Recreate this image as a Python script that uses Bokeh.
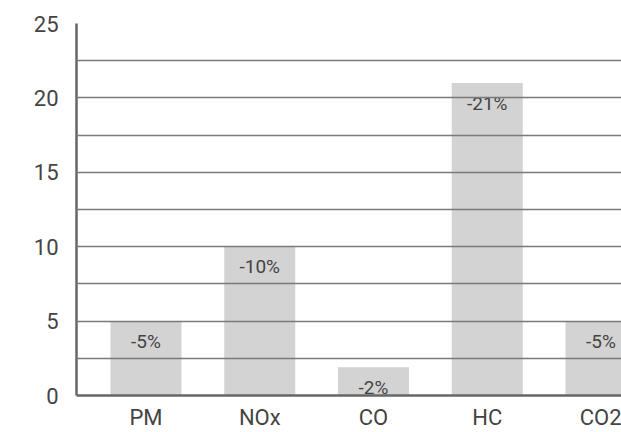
from bokeh.plotting import figure
from bokeh.models import FixedTicker, Range1d, ColumnDataSource
from bokeh.core.properties import value
from bokeh.embed import file_html
from bokeh.resources import INLINE

categories = ["PM", "NOx", "CO", "HC", "CO2"]
values = [5, 10, 1.9, 21, 5]
labels = ["-5%", "-10%", "-2%", "-21%", "-5%"]
y_ticks = [0, 5, 10, 15, 20, 25]
grid_ticks = [2.5, 5, 7.5, 10, 12.5, 15, 17.5, 20, 22.5]

FONT = "Roboto"
TXT = "#444444"

xs = list(range(len(categories)))
src = ColumnDataSource(dict(x=xs, top=values, label=labels))

p = figure(width=621, height=432, output_backend="svg", toolbar_location=None,
           x_range=Range1d(-0.611, 4.18), y_range=Range1d(0, 25),
           min_border_left=76, min_border_right=0, min_border_top=23,
           min_border_bottom=33)
p.outline_line_color = None
p.background_fill_color = "white"
p.border_fill_color = "white"

p.vbar(x="x", top="top", width=0.624, bottom=0, source=src,
       fill_color="#d3d3d3", line_color=None)

p.text(x="x", y="top", text="label", source=src, text_align="center",
       text_baseline="middle", y_offset=20, text_color=TXT,
       text_font=value(FONT), text_font_size="19px")

p.xgrid.grid_line_color = None
p.ygrid.ticker = FixedTicker(ticks=grid_ticks)
p.ygrid.grid_line_color = "#7a7a7a"
p.ygrid.grid_line_width = 1.3
p.ygrid.level = "guide"

p.yaxis.ticker = FixedTicker(ticks=y_ticks)
p.xaxis.ticker = FixedTicker(ticks=xs)
p.xaxis.major_label_overrides = {i: c for i, c in enumerate(categories)}

for ax in (p.xaxis, p.yaxis):
    ax.axis_line_color = "#666666"
    ax.axis_line_width = 2.5
    ax.major_tick_line_color = None
    ax.minor_tick_line_color = None
    ax.major_tick_out = 0
    ax.major_tick_in = 0
    ax.minor_tick_out = 0
    ax.major_label_text_font = FONT
    ax.major_label_text_font_size = "22px"
    ax.major_label_text_color = TXT
p.yaxis.major_label_standoff = 18
p.xaxis.major_label_standoff = 9

open("out.html", "w").write(file_html(p, INLINE))
